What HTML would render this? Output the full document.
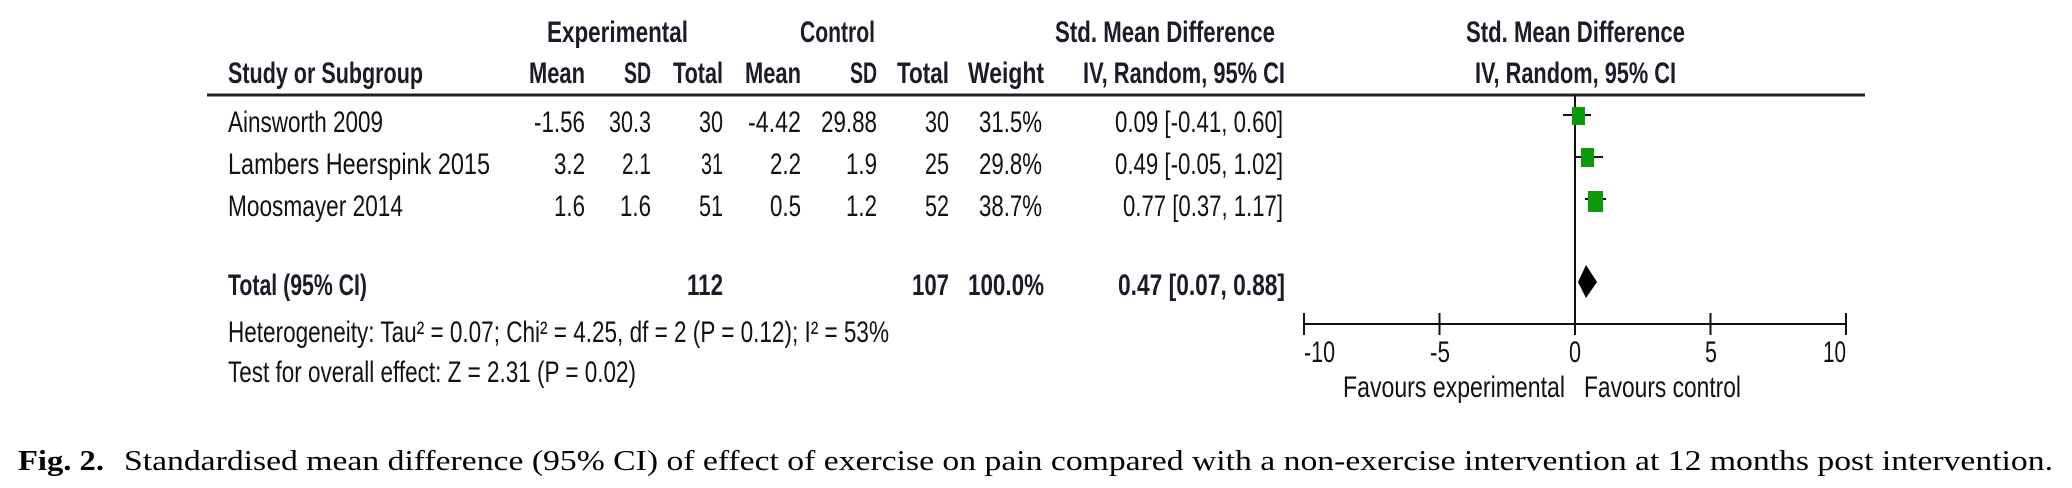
<!DOCTYPE html>
<html><head><meta charset="utf-8"><style>
html,body{margin:0;padding:0;background:#fff;}
svg{display:block;}
text{font-family:"Liberation Sans",sans-serif;font-size:30px;fill:#111;}
.b{font-weight:bold;fill:#1c1c28;}
.s{font-family:"Liberation Serif",serif;font-size:29px;fill:#000;}
</style></head><body>
<svg width="2072" height="488" viewBox="0 0 2072 488" xmlns="http://www.w3.org/2000/svg">
<!-- headers -->
<text class="b" x="547" y="42" textLength="141" lengthAdjust="spacingAndGlyphs">Experimental</text>
<text class="b" x="800" y="42" textLength="75" lengthAdjust="spacingAndGlyphs">Control</text>
<text class="b" x="1055" y="42" textLength="220" lengthAdjust="spacingAndGlyphs">Std. Mean Difference</text>
<text class="b" x="1466" y="42" textLength="219" lengthAdjust="spacingAndGlyphs">Std. Mean Difference</text>
<text class="b" x="228" y="83" textLength="195" lengthAdjust="spacingAndGlyphs">Study or Subgroup</text>
<text class="b" x="529" y="83" textLength="56" lengthAdjust="spacingAndGlyphs">Mean</text>
<text class="b" x="624" y="83" textLength="27" lengthAdjust="spacingAndGlyphs">SD</text>
<text class="b" x="673" y="83" textLength="50" lengthAdjust="spacingAndGlyphs">Total</text>
<text class="b" x="745" y="83" textLength="56" lengthAdjust="spacingAndGlyphs">Mean</text>
<text class="b" x="850" y="83" textLength="27" lengthAdjust="spacingAndGlyphs">SD</text>
<text class="b" x="897" y="83" textLength="52" lengthAdjust="spacingAndGlyphs">Total</text>
<text class="b" x="968" y="83" textLength="76" lengthAdjust="spacingAndGlyphs">Weight</text>
<text class="b" x="1083" y="83" textLength="202" lengthAdjust="spacingAndGlyphs">IV, Random, 95% CI</text>
<text class="b" x="1475" y="83" textLength="201" lengthAdjust="spacingAndGlyphs">IV, Random, 95% CI</text>
<line x1="207" y1="95" x2="1865" y2="95" stroke="#222" stroke-width="3"/>

<!-- rows -->
<g text-anchor="end">
<text x="585" y="132" textLength="51" lengthAdjust="spacingAndGlyphs">-1.56</text>
<text x="651" y="132" textLength="42" lengthAdjust="spacingAndGlyphs">30.3</text>
<text x="723" y="132" textLength="24" lengthAdjust="spacingAndGlyphs">30</text>
<text x="801" y="132" textLength="53" lengthAdjust="spacingAndGlyphs">-4.42</text>
<text x="877" y="132" textLength="56" lengthAdjust="spacingAndGlyphs">29.88</text>
<text x="949" y="132" textLength="24" lengthAdjust="spacingAndGlyphs">30</text>
<text x="1042" y="132" textLength="63" lengthAdjust="spacingAndGlyphs">31.5%</text>
<text x="1283" y="132" textLength="168" lengthAdjust="spacingAndGlyphs">0.09 [-0.41, 0.60]</text>

<text x="585" y="174" textLength="31" lengthAdjust="spacingAndGlyphs">3.2</text>
<text x="651" y="174" textLength="29" lengthAdjust="spacingAndGlyphs">2.1</text>
<text x="723" y="174" textLength="22" lengthAdjust="spacingAndGlyphs">31</text>
<text x="801" y="174" textLength="31" lengthAdjust="spacingAndGlyphs">2.2</text>
<text x="877" y="174" textLength="31" lengthAdjust="spacingAndGlyphs">1.9</text>
<text x="949" y="174" textLength="24" lengthAdjust="spacingAndGlyphs">25</text>
<text x="1042" y="174" textLength="63" lengthAdjust="spacingAndGlyphs">29.8%</text>
<text x="1283" y="174" textLength="168" lengthAdjust="spacingAndGlyphs">0.49 [-0.05, 1.02]</text>

<text x="585" y="216" textLength="31" lengthAdjust="spacingAndGlyphs">1.6</text>
<text x="651" y="216" textLength="31" lengthAdjust="spacingAndGlyphs">1.6</text>
<text x="723" y="216" textLength="24" lengthAdjust="spacingAndGlyphs">51</text>
<text x="801" y="216" textLength="31" lengthAdjust="spacingAndGlyphs">0.5</text>
<text x="877" y="216" textLength="31" lengthAdjust="spacingAndGlyphs">1.2</text>
<text x="949" y="216" textLength="24" lengthAdjust="spacingAndGlyphs">52</text>
<text x="1042" y="216" textLength="63" lengthAdjust="spacingAndGlyphs">38.7%</text>
<text x="1283" y="216" textLength="160" lengthAdjust="spacingAndGlyphs">0.77 [0.37, 1.17]</text>

<text class="b" x="723" y="295" textLength="36" lengthAdjust="spacingAndGlyphs">112</text>
<text class="b" x="949" y="295" textLength="37" lengthAdjust="spacingAndGlyphs">107</text>
<text class="b" x="1044" y="295" textLength="76" lengthAdjust="spacingAndGlyphs">100.0%</text>
<text class="b" x="1285" y="295" textLength="167" lengthAdjust="spacingAndGlyphs">0.47 [0.07, 0.88]</text>
</g>

<text x="228" y="132" textLength="155" lengthAdjust="spacingAndGlyphs">Ainsworth 2009</text>
<text x="228" y="174" textLength="262" lengthAdjust="spacingAndGlyphs">Lambers Heerspink 2015</text>
<text x="228" y="216" textLength="175" lengthAdjust="spacingAndGlyphs">Moosmayer 2014</text>
<text class="b" x="228" y="295" textLength="139" lengthAdjust="spacingAndGlyphs">Total (95% CI)</text>
<text x="228" y="342" textLength="661" lengthAdjust="spacingAndGlyphs">Heterogeneity: Tau² = 0.07; Chi² = 4.25, df = 2 (P = 0.12); I² = 53%</text>
<text x="228" y="382" textLength="408" lengthAdjust="spacingAndGlyphs">Test for overall effect: Z = 2.31 (P = 0.02)</text>

<!-- plot -->
<line x1="1575" y1="95" x2="1575" y2="324" stroke="#111" stroke-width="2"/>
<line x1="1304" y1="324" x2="1846" y2="324" stroke="#111" stroke-width="2"/>
<g stroke="#111" stroke-width="2">
<line x1="1304" y1="313" x2="1304" y2="335"/><line x1="1439.5" y1="313" x2="1439.5" y2="335"/>
<line x1="1575" y1="313" x2="1575" y2="335"/><line x1="1710.5" y1="313" x2="1710.5" y2="335"/>
<line x1="1846" y1="313" x2="1846" y2="335"/>
<line x1="1563" y1="115" x2="1591" y2="115"/>
<line x1="1574" y1="157" x2="1603" y2="157"/>
<line x1="1585" y1="199" x2="1606" y2="199"/>
</g>
<rect x="1572" y="107" width="13" height="18" fill="#0a9a0a"/>
<rect x="1581" y="148" width="13" height="19" fill="#0a9a0a"/>
<rect x="1588" y="191" width="15" height="21" fill="#0a9a0a"/>
<polygon points="1578,282 1586,265 1597,282 1586,298" fill="#000"/>
<text x="1304" y="362" textLength="31" lengthAdjust="spacingAndGlyphs">-10</text>
<text x="1430" y="362" textLength="20" lengthAdjust="spacingAndGlyphs">-5</text>
<text x="1569" y="362" textLength="12" lengthAdjust="spacingAndGlyphs">0</text>
<text x="1705" y="362" textLength="12" lengthAdjust="spacingAndGlyphs">5</text>
<text x="1823" y="362" textLength="23" lengthAdjust="spacingAndGlyphs">10</text>
<text x="1343" y="397" textLength="222" lengthAdjust="spacingAndGlyphs">Favours experimental</text>
<text x="1584" y="397" textLength="157" lengthAdjust="spacingAndGlyphs">Favours control</text>

<!-- caption -->
<text class="s" x="18" y="470" style="font-weight:bold" textLength="86" lengthAdjust="spacingAndGlyphs">Fig. 2.</text>
<text class="s" x="124" y="470" textLength="1929" lengthAdjust="spacingAndGlyphs">Standardised mean difference (95% CI) of effect of exercise on pain compared with a non-exercise intervention at 12 months post intervention.</text>
</svg>
</body></html>
